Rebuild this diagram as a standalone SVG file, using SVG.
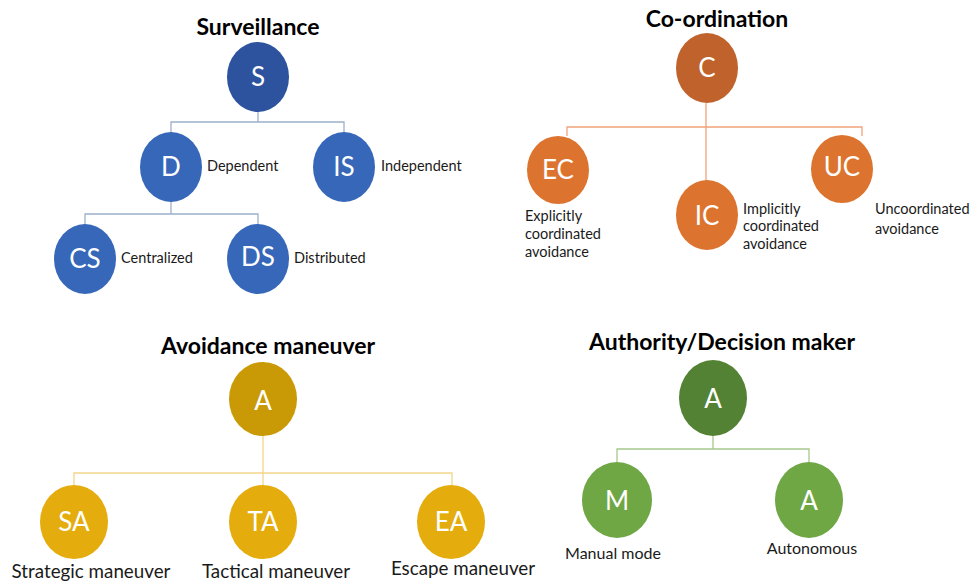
<svg xmlns="http://www.w3.org/2000/svg" width="977" height="582" viewBox="0 0 977 582">
<style>
.title{font-family:Lato,"Open Sans","Liberation Sans",sans-serif;font-weight:bold;font-size:23px;fill:#000;text-anchor:middle}
.init{font-family:Lato,"Open Sans","Liberation Sans",sans-serif;font-size:26px;fill:#fff;text-anchor:middle}
.lbl{font-family:Lato,"Open Sans","Liberation Sans",sans-serif;font-size:14.5px;fill:#1a1a1a}
.big{font-family:Lato,"Open Sans","Liberation Sans",sans-serif;font-size:18.8px;fill:#1a1a1a;text-anchor:middle}
.mid{font-family:Lato,"Open Sans","Liberation Sans",sans-serif;font-size:16px;fill:#1a1a1a;text-anchor:middle}
.lb{fill:none;stroke:#9db0cc;stroke-width:1.3}
.lo{fill:none;stroke:#f0a37a;stroke-width:1.3}
.lg{fill:none;stroke:#f3d68a;stroke-width:1.3}
.lgr{fill:none;stroke:#a6c88c;stroke-width:1.3}
.b0{fill:#2d539f}.b1{fill:#3767b8}
.o0{fill:#c0622b}.o1{fill:#dc7430}
.g0{fill:#c99a05}.g1{fill:#e4ac0c}
.r0{fill:#538234}.r1{fill:#6fa745}
</style>

<text class="title" x="258" y="35">Surveillance</text>
<text class="title" x="717" y="27">Co-ordination</text>
<text class="title" x="268" y="354">Avoidance maneuver</text>
<text class="title" x="722" y="350">Authority/Decision maker</text>

<g id="connectors">
<path class="lb" d="M258 112V122M171 133V122H344V133M171 202V214M85 225V214H258V225"/>
<path class="lo" d="M706 103V181M567 136V127H862V136"/>
<path class="lg" d="M263 436V485M74 485V473H452V485"/>
<path class="lgr" d="M713 436V449M617 462V449H809V462"/>
</g>

<g id="S"><ellipse class="b0" cx="258" cy="77" rx="31" ry="35"/><text class="init" x="258" y="86">S</text></g>
<g id="D"><ellipse class="b1" cx="171" cy="167" rx="31" ry="35"/><text class="init" x="171" y="176">D</text><text class="lbl" x="207" y="171">Dependent</text></g>
<g id="IS"><ellipse class="b1" cx="344" cy="167" rx="31" ry="35"/><text class="init" x="344" y="176">IS</text><text class="lbl" x="381" y="171">Independent</text></g>
<g id="CS"><ellipse class="b1" cx="85" cy="259" rx="31" ry="35"/><text class="init" x="85" y="268">CS</text><text class="lbl" x="121" y="263">Centralized</text></g>
<g id="DS"><ellipse class="b1" cx="258" cy="259" rx="31" ry="35"/><text class="init" x="258" y="266">DS</text><text class="lbl" x="294" y="263">Distributed</text></g>

<g id="C"><ellipse class="o0" cx="707" cy="68" rx="31" ry="35"/><text class="init" x="707" y="77">C</text></g>
<g id="EC"><ellipse class="o1" cx="558" cy="170" rx="31" ry="34"/><text class="init" x="558" y="179">EC</text><text class="lbl" x="525" y="221">Explicitly</text><text class="lbl" x="525" y="239">coordinated</text><text class="lbl" x="525" y="257">avoidance</text></g>
<g id="IC"><ellipse class="o1" cx="707" cy="215" rx="31" ry="35"/><text class="init" x="707" y="225">IC</text><text class="lbl" x="743" y="214">Implicitly</text><text class="lbl" x="743" y="231">coordinated</text><text class="lbl" x="743" y="249">avoidance</text></g>
<g id="UC"><ellipse class="o1" cx="842" cy="169" rx="31" ry="34"/><text class="init" x="842" y="176">UC</text><text class="lbl" x="875" y="214">Uncoordinated</text><text class="lbl" x="875" y="234">avoidance</text></g>

<g id="A1"><ellipse class="g0" cx="263" cy="399" rx="34" ry="37"/><text class="init" x="263" y="410">A</text></g>
<g id="SA"><ellipse class="g1" cx="74" cy="522" rx="34" ry="37"/><text class="init" x="74" y="531">SA</text><text class="big" x="91" y="578">Strategic maneuver</text></g>
<g id="TA"><ellipse class="g1" cx="263" cy="522" rx="34" ry="37"/><text class="init" x="263" y="531">TA</text><text class="big" x="276" y="578">Tactical maneuver</text></g>
<g id="EA"><ellipse class="g1" cx="451" cy="522" rx="34" ry="37"/><text class="init" x="451" y="531">EA</text><text class="big" x="463" y="575">Escape maneuver</text></g>

<g id="A2"><ellipse class="r0" cx="713" cy="398" rx="34" ry="38"/><text class="init" x="713" y="408">A</text></g>
<g id="M"><ellipse class="r1" cx="617" cy="500" rx="35" ry="38"/><text class="init" x="617" y="510">M</text><text class="mid" x="613" y="559">Manual mode</text></g>
<g id="A3"><ellipse class="r1" cx="809" cy="500" rx="34" ry="38"/><text class="init" x="809" y="510">A</text><text class="mid" x="812" y="554">Autonomous</text></g>
</svg>
